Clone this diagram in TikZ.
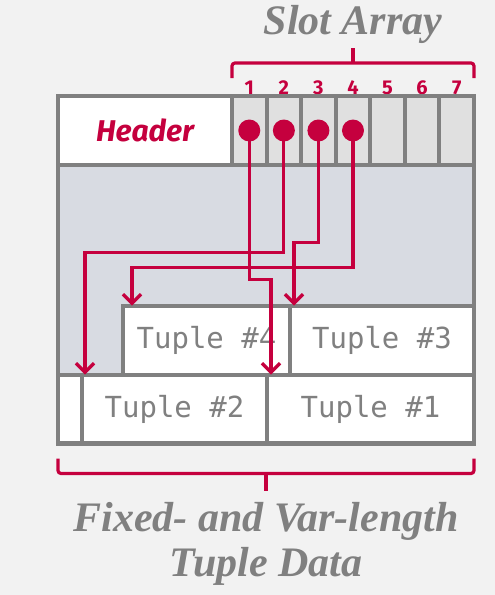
\documentclass[tikz,border=0pt]{standalone}
\usepackage{fontspec}
\usepackage{tikz}
\usetikzlibrary{arrows.meta,positioning,calc}
\newfontfamily\slotfont{Fira Sans}
\newfontfamily\tuplefont{DejaVu Sans Mono}
\newfontfamily\capfont{Liberation Serif}
\definecolor{pagered}{HTML}{C5003E}
\definecolor{pagegray}{HTML}{808080}
\definecolor{pagefill}{HTML}{D8DBE2}
\definecolor{slotfill}{HTML}{E0E0E0}
\definecolor{pagebg}{HTML}{F2F2F2}
\tikzstyle{cell} = [rectangle, draw=pagegray, line width=4pt, fill=white,
    inner sep=0pt, outer sep=0pt, minimum height=69pt]
\tikzstyle{tuple} = [cell, text=pagegray, font=\tuplefont\fontsize{29}{30}\selectfont]
\tikzstyle{slot} = [cell, fill=slotfill, minimum width=34.57pt]
\tikzstyle{slotnum} = [text=pagered, font=\slotfont\bfseries\fontsize{20}{22}\selectfont]
\tikzstyle{dot} = [circle, fill=pagered, minimum size=22pt, inner sep=0pt]
\tikzstyle{ptr} = [-{Straight Barb[length=9pt,width=18pt]}, line width=3.2pt, pagered]
\tikzstyle{bracket} = [line width=3.2pt, pagered, rounded corners=3pt]
\tikzstyle{caption} = [text=pagegray, align=center,
    font=\capfont\bfseries\itshape\fontsize{42}{45}\selectfont]

\begin{document}
\begin{tikzpicture}[x=1pt, y=-1pt]
\fill[pagebg] (0,0) rectangle (495,595);
\useasboundingbox (0,0) rectangle (495,595);

% free space between slots and tuples
\fill[pagefill] (58,165) rectangle (474,375);

% header and slot array
\node[cell, minimum width=174pt, text=pagered,
    font=\slotfont\bfseries\itshape\fontsize{30}{32}\selectfont] (header) at (145,130.5) {Header};
\foreach \i in {1,...,7} {
  \node[slot] (s\i) at ({232+34.57*(\i-0.5)},130.5) {};
  \node[slotnum, above=-2pt of s\i] (n\i) {\i};
}

% tuple data
\node[tuple, minimum width=207pt] (t1) at (370.5,409) {Tuple \#1};
\node[tuple, minimum width=185pt, left=0pt of t1] (t2) {Tuple \#2};
\node[cell, minimum width=24pt, left=0pt of t2] (gap) {};
\node[tuple, minimum width=184pt, anchor=south east] (t3) at (t1.north east) {Tuple \#3};
\node[tuple, minimum width=167pt, left=0pt of t3] (t4) {Tuple \#4};

\draw[pagegray, line width=4pt] (58,96) rectangle (474,443);

% slot pointers
\foreach \i in {1,...,4}
  \node[dot] (p\i) at (s\i) {};
\draw[ptr] (p1.center) -- ++(0,149) -| ([xshift=4pt]t1.north west);
\draw[ptr] (p2.center) -- ++(0,122) -| ([xshift=3pt]t2.north west);
\draw[ptr] (p3.center) -- ++(0,112) -| ([xshift=4pt]t3.north west);
\draw[ptr] (p4.center) -- ++(0,137) -| ([xshift=9pt]t4.north west);

% brackets
\draw[bracket] ([yshift=18pt]s1.north west) -- ([yshift=33pt]s1.north west)
  -- ([yshift=33pt]s7.north east) -- ([yshift=18pt]s7.north east);
\draw[pagered, line width=3.2pt] ([yshift=33pt]s4.north) -- ([yshift=48pt]s4.north);
\draw[bracket] ([yshift=-15pt]gap.south west) -- ([yshift=-30pt]gap.south west)
  -- ([yshift=-30pt]t1.south east) -- ([yshift=-15pt]t1.south east);
\draw[pagered, line width=3.2pt] (266,473) -- (266,491);

\node[caption] (slotlbl) at (353,24) {Slot Array};
\node[caption] (datalbl) at (266,544) {Fixed- and Var-length\\Tuple Data};
\end{tikzpicture}
\end{document}
